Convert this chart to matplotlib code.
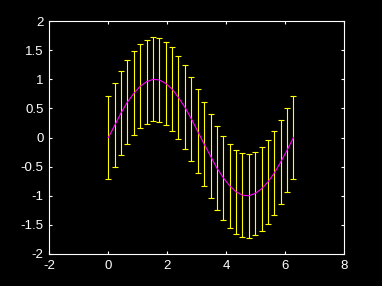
import matplotlib

matplotlib.use("Agg")
import matplotlib.pyplot as plt

# sample points along one period
x_vals = [0.00, 0.22, 0.43, 0.65, 0.87, 1.08, 1.30, 1.52, 1.73, 1.95,
          2.17, 2.38, 2.60, 2.82, 3.03, 3.25, 3.47, 3.68, 3.90, 4.12,
          4.33, 4.55, 4.77, 4.98, 5.20, 5.42, 5.63, 5.85, 6.07, 6.28]
y_vals = [0.00, 0.21, 0.42, 0.61, 0.76, 0.88, 0.96, 1.00, 0.99, 0.93,
          0.83, 0.69, 0.52, 0.32, 0.11, -0.11, -0.32, -0.52, -0.69, -0.83,
          -0.93, -0.99, -1.00, -0.96, -0.88, -0.76, -0.61, -0.42, -0.21, 0.00]
err_vals = [0.72, 0.72, 0.72, 0.72, 0.72, 0.72, 0.72, 0.72, 0.72, 0.72,
            0.72, 0.72, 0.72, 0.72, 0.72, 0.72, 0.72, 0.72, 0.72, 0.72,
            0.72, 0.72, 0.72, 0.72, 0.72, 0.72, 0.72, 0.72, 0.72, 0.72]

x_ticks = [-2, 0, 2, 4, 6, 8]
y_ticks = [-2, -1.5, -1, -0.5, 0, 0.5, 1, 1.5, 2]
y_tick_labels = ["-2", "-1.5", "-1", "-0.5", "0", "0.5", "1", "1.5", "2"]

plt.rcParams["font.family"] = ["Liberation Sans", "DejaVu Sans"]

fig = plt.figure(figsize=(3.82, 2.86), dpi=100, facecolor="black")
ax = fig.add_axes([0.129, 0.112, 0.772, 0.814], facecolor="black")

ax.errorbar(x_vals, y_vals, yerr=err_vals, fmt="none", ecolor="#ffff00",
            elinewidth=0.8, capsize=2.2, capthick=0.8)
ax.plot(x_vals, y_vals, color="#ff00ff", lw=0.8)

ax.set_xlim(-2, 8)
ax.set_ylim(-2, 2)
ax.set_xticks(x_ticks)
ax.set_xticklabels([str(t) for t in x_ticks])
ax.set_yticks(y_ticks)
ax.set_yticklabels(y_tick_labels)

for spine in ax.spines.values():
    spine.set_color("white")
    spine.set_linewidth(0.8)
ax.tick_params(direction="in", length=2.5, width=0.8, colors="white",
               labelsize=9.5, top=True, right=True, pad=4)

fig.savefig("out.png", dpi=100, facecolor="black")
